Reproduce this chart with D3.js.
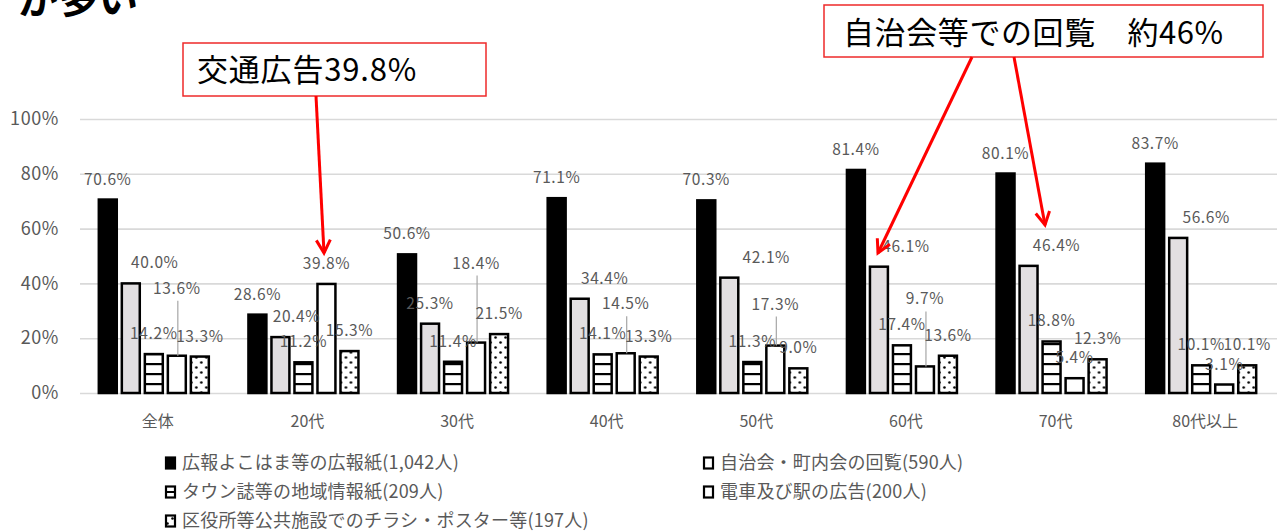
<!DOCTYPE html>
<html lang="ja">
<head>
<meta charset="utf-8">
<script src="https://cdn.jsdelivr.net/npm/d3@7"></script>
<style>
  body { margin: 0; background: #fff; }
  svg text { font-family: "Noto Sans CJK JP", "Noto Sans", sans-serif; }
</style>
</head>
<body>
<div id="chart"></div>
<script>
// Categories (age groups)
const categories = ["全体", "20代", "30代", "40代", "50代", "60代", "70代", "80代以上"];

// Series names (legend)
const seriesNames = [
    "広報よこはま等の広報紙(1,042人)",
    "自治会・町内会の回覧(590人)",
    "タウン誌等の地域情報紙(209人)",
    "電車及び駅の広告(200人)",
    "区役所等公共施設でのチラシ・ポスター等(197人)"
];

// Values in %
const kohoValues    = [70.6, 28.6, 50.6, 71.1, 70.3, 81.4, 80.1, 83.7];
const kairanValues  = [40.0, 20.4, 25.3, 34.4, 42.1, 46.1, 46.4, 56.6];
const townValues    = [14.2, 11.2, 11.4, 14.1, 11.3, 17.4, 18.8, 10.1];
const trainValues   = [13.6, 39.8, 18.4, 14.5, 17.3,  9.7,  5.4,  3.1];
const posterValues  = [13.3, 15.3, 21.5, 13.3,  9.0, 13.6, 12.3, 10.1];

// Y axis ticks
const yTicks = [0, 20, 40, 60, 80, 100];

// Manually moved data labels (pixels), like the original excel chart
const kairanLabelDx = [24, 16, 0, 25, 37, 27, 28, 28];
const trainLabelDy  = [-47, 0, -59, -29, -21, -47, 0, 0];

const allSeries = [kohoValues, kairanValues, townValues, trainValues, posterValues];

// Dimensions
const W = 1282, H = 532;
const plotLeft = 80, plotRight = 1277, plotTop = 119, plotBottom = 393;

const svg = d3.select("#chart").append("svg")
    .attr("width", W)
    .attr("height", H);

// Patterns
const defs = svg.append("defs");

const hatch = defs.append("pattern")
    .attr("id", "hatch")
    .attr("patternUnits", "userSpaceOnUse")
    .attr("width", 10).attr("height", 10)
    .attr("y", plotBottom);
hatch.append("rect").attr("width", 10).attr("height", 10).attr("fill", "#fff");
hatch.append("rect").attr("y", 0).attr("width", 10).attr("height", 2.2).attr("fill", "#000");

const dots = defs.append("pattern")
    .attr("id", "dots")
    .attr("patternUnits", "userSpaceOnUse")
    .attr("width", 10).attr("height", 10);
dots.append("rect").attr("width", 10).attr("height", 10).attr("fill", "#fff");
dots.append("circle").attr("cx", 2.5).attr("cy", 2.5).attr("r", 1.3).attr("fill", "#000");
dots.append("circle").attr("cx", 7.5).attr("cy", 7.5).attr("r", 1.3).attr("fill", "#000");

const fills = ["#000", "#e2dfe1", "url(#hatch)", "#fff", "url(#dots)"];

// Scales
const x0 = d3.scaleBand()
    .domain(categories)
    .range([plotLeft, plotRight]);

const x1 = d3.scaleBand()
    .domain(d3.range(allSeries.length))
    .range([0, 110])
    .paddingInner(0.22);

const y = d3.scaleLinear()
    .domain([0, 100])
    .range([plotBottom, plotTop]);

// Grid + Y axis
const yAxis = svg.append("g")
    .attr("transform", "translate(" + plotLeft + ",0)")
    .call(d3.axisLeft(y)
        .tickValues(yTicks)
        .tickSize(-(plotRight - plotLeft))
        .tickPadding(21)
        .tickFormat(d => d + "%"));
yAxis.select(".domain").remove();
yAxis.selectAll(".tick line").attr("stroke", "#d9d9d9").attr("stroke-width", 1.6);
yAxis.selectAll(".tick text")
    .attr("fill", "#595959")
    .style("font-size", "18px")
    .style("letter-spacing", "0.6px");

// X axis
const xAxis = svg.append("g")
    .attr("transform", "translate(0," + plotBottom + ")")
    .call(d3.axisBottom(x0).tickSize(0).tickPadding(23));
xAxis.select(".domain").remove();
xAxis.selectAll(".tick text")
    .attr("fill", "#595959")
    .attr("dx", 3)
    .style("font-size", "16px");

// Bars
const groupStart = c => x0(c) + x0.bandwidth() / 2 - 56;

const groups = svg.append("g").selectAll("g")
    .data(categories)
    .enter()
    .append("g")
    .attr("transform", c => "translate(" + groupStart(c) + ",0)");

groups.selectAll("rect")
    .data((c, gi) => allSeries.map((vals, si) => ({ s: si, g: gi, v: vals[gi] })))
    .enter()
    .append("rect")
    .attr("x", d => x1(d.s))
    .attr("y", d => y(d.v))
    .attr("width", x1.bandwidth())
    .attr("height", d => plotBottom - y(d.v))
    .attr("fill", d => fills[d.s])
    .attr("stroke", "#000")
    .attr("stroke-width", 2.5);

// Data labels
const labelData = [];
categories.forEach((c, gi) => {
    allSeries.forEach((vals, si) => {
        const v = vals[gi];
        const bx = groupStart(c) + x1(si) + x1.bandwidth() / 2;
        let dx = 0, dy = 0;
        if (si === 1) dx = kairanLabelDx[gi];
        if (si === 3) dy = trainLabelDy[gi];
        labelData.push({ v: v, bx: bx, top: y(v), x: bx + dx, base: y(v) - 15 + dy, moved: dy !== 0 });
    });
});

// Leader lines for moved labels
svg.append("g").selectAll("line")
    .data(labelData.filter(d => d.moved))
    .enter()
    .append("line")
    .attr("x1", d => d.bx + 1).attr("x2", d => d.bx + 1)
    .attr("y1", d => d.base + 7)
    .attr("y2", d => d.top)
    .attr("stroke", "#a6a6a6")
    .attr("stroke-width", 1.2);

svg.append("g").selectAll("text")
    .data(labelData)
    .enter()
    .append("text")
    .attr("x", d => d.x)
    .attr("y", d => d.base)
    .attr("text-anchor", "middle")
    .attr("fill", "#595959")
    .style("font-size", "15.5px")
    .style("letter-spacing", "0.6px")
    .text(d => d.v.toFixed(1) + "%");

// Legend
const legendPos = [
    { x: 165, y: 463 },
    { x: 703, y: 463 },
    { x: 165, y: 492 },
    { x: 703, y: 492 },
    { x: 165, y: 521 }
];
const legendFills = ["#000", "#fff", "#fff", "#fff", "url(#dots)"];

const legend = svg.append("g").selectAll("g")
    .data(seriesNames)
    .enter()
    .append("g")
    .attr("transform", (d, i) => "translate(" + legendPos[i].x + "," + legendPos[i].y + ")");

legend.append("rect")
    .attr("x", 1).attr("y", -5.5)
    .attr("width", 9).attr("height", 11)
    .attr("fill", (d, i) => legendFills[i])
    .attr("stroke", "#000")
    .attr("stroke-width", 2.2);

// middle line of the hatched legend key
legend.filter((d, i) => i === 2)
    .append("line")
    .attr("x1", 1).attr("x2", 10)
    .attr("y1", 0).attr("y2", 0)
    .attr("stroke", "#000").attr("stroke-width", 2);

legend.append("text")
    .attr("x", 17)
    .attr("y", 0)
    .attr("dy", "0.36em")
    .attr("fill", "#595959")
    .style("font-size", "18px")
    .style("letter-spacing", "0.2px")
    .text(d => d);

// Heading fragment cut at the top
svg.append("text")
    .attr("x", 18)
    .attr("y", 13)
    .attr("fill", "#000")
    .style("font-size", "40px")
    .style("font-weight", "bold")
    .text("が多い");

// Arrow head
defs.append("marker")
    .attr("id", "arrow")
    .attr("markerUnits", "userSpaceOnUse")
    .attr("viewBox", "-16 -10 20 20")
    .attr("refX", 0).attr("refY", 0)
    .attr("markerWidth", 20).attr("markerHeight", 20)
    .attr("orient", "auto")
    .append("path")
    .attr("d", "M-13,-7 L0,0 L-13,7")
    .attr("fill", "none")
    .attr("stroke", "#ff0000")
    .attr("stroke-width", 3);

// Annotation 1
svg.append("rect")
    .attr("x", 183).attr("y", 43)
    .attr("width", 303).attr("height", 53)
    .attr("fill", "#fff")
    .attr("stroke", "#ee2a2a")
    .attr("stroke-width", 1.5);
svg.append("text")
    .attr("x", 197).attr("y", 81)
    .attr("fill", "#000")
    .style("font-size", "31px")
    .style("letter-spacing", "0.8px")
    .text("交通広告39.8%");
svg.append("line")
    .attr("x1", 316).attr("y1", 96)
    .attr("x2", 324).attr("y2", 253)
    .attr("stroke", "#ff0000")
    .attr("stroke-width", 3)
    .attr("marker-end", "url(#arrow)");

// Annotation 2
svg.append("rect")
    .attr("x", 824).attr("y", 5)
    .attr("width", 439).attr("height", 52)
    .attr("fill", "#fff")
    .attr("stroke", "#ee2a2a")
    .attr("stroke-width", 1.5);
svg.append("text")
    .attr("x", 843).attr("y", 44)
    .attr("fill", "#000")
    .style("font-size", "31px")
    .style("letter-spacing", "0.6px")
    .text("自治会等での回覧\u3000約46%");
svg.append("line")
    .attr("x1", 972).attr("y1", 57)
    .attr("x2", 878).attr("y2", 253)
    .attr("stroke", "#ff0000")
    .attr("stroke-width", 3)
    .attr("marker-end", "url(#arrow)");
svg.append("line")
    .attr("x1", 1014).attr("y1", 57)
    .attr("x2", 1045).attr("y2", 225)
    .attr("stroke", "#ff0000")
    .attr("stroke-width", 3)
    .attr("marker-end", "url(#arrow)");
</script>
</body>
</html>
